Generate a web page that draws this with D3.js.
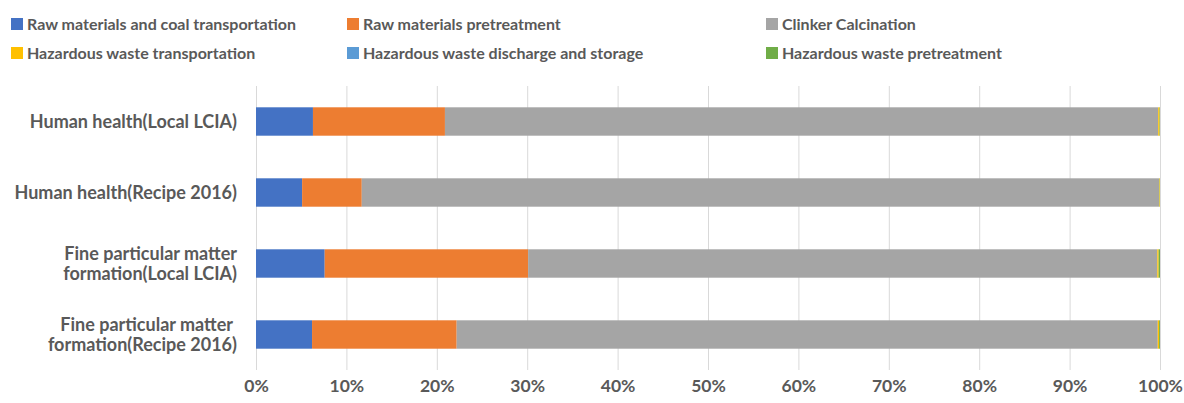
<!DOCTYPE html>
<html>
<head>
<meta charset="utf-8">
<script src="https://cdn.jsdelivr.net/npm/d3@7"></script>
<style>
  html, body { margin: 0; padding: 0; background: #fff; }
  svg text { font-family: Lato, "Open Sans", sans-serif; font-weight: 700; fill: #595959; }
</style>
</head>
<body>
<svg id="chart" width="1184" height="403"></svg>
<script>
// Impact categories (top to bottom)
const categories = [
  "Human health(Local LCIA)",
  "Human health(Recipe 2016)",
  "Fine particular matter\nformation(Local LCIA)",
  "Fine particular matter \nformation(Recipe 2016)"
];

// Process stages, in stacking order
const stages = [
  "Raw materials and coal transportation",
  "Raw materials pretreatment",
  "Clinker Calcination",
  "Hazardous waste transportation",
  "Hazardous waste discharge and storage",
  "Hazardous waste pretreatment"
];

// Share (%) of each stage per category
const rawTransport   = [6.3, 5.1, 7.6, 6.2];
const rawPretreat    = [14.6, 6.6, 22.5, 16.0];
const clinker        = [78.9, 88.2, 69.6, 77.55];
const hwTransport    = [0.15, 0.07, 0.15, 0.15];
const hwDischarge    = [0.0, 0.0, 0.0, 0.0];
const hwPretreat     = [0.05, 0.03, 0.15, 0.1];

const tickValues = [0, 10, 20, 30, 40, 50, 60, 70, 80, 90, 100];

const colors = ["#4472C4", "#ED7D31", "#A5A5A5", "#FFC000", "#5B9BD5", "#70AD47"];

const seriesValues = [rawTransport, rawPretreat, clinker, hwTransport, hwDischarge, hwPretreat];
const rows = categories.map((c, i) => {
  const r = { category: c };
  stages.forEach((s, j) => { r[s] = seriesValues[j][i]; });
  return r;
});

const svg = d3.select("#chart");
const margin = { left: 256, right: 24, top: 86, bottom: 33 };
const W = 1184, H = 403;

const x = d3.scaleLinear().domain([0, 100]).range([margin.left, W - margin.right]);
const y = d3.scaleBand().domain(categories).range([margin.top, H - margin.bottom]).paddingInner(0.6).paddingOuter(0.3);

// Vertical gridlines
svg.append("g")
  .selectAll("line")
  .data(tickValues)
  .join("line")
  .attr("x1", d => x(d) + 0.5).attr("x2", d => x(d) + 0.5)
  .attr("y1", margin.top).attr("y2", H - margin.bottom)
  .attr("stroke", "#D9D9D9").attr("stroke-width", 1);

// Stacked bars
const stack = d3.stack().keys(stages);
const layers = stack(rows);

svg.append("g")
  .selectAll("g")
  .data(layers)
  .join("g")
  .attr("fill", (d, i) => colors[i])
  .selectAll("rect")
  .data(d => d)
  .join("rect")
  .attr("x", d => x(d[0]))
  .attr("width", d => Math.max(0, x(d[1]) - x(d[0])))
  .attr("y", d => y(d.data.category))
  .attr("height", y.bandwidth());

// X axis labels
const xAxis = d3.axisBottom(x).tickValues(tickValues).tickFormat(d => d + "%").tickSize(0).tickPadding(0);
const gx = svg.append("g").attr("transform", `translate(0, ${H - margin.bottom})`).call(xAxis);
gx.select(".domain").remove();
gx.selectAll("text").attr("dy", null).attr("y", 22).style("font-size", "17.5px").style("font-family", null).attr("fill", null);

// Category labels (right-aligned, may wrap to two lines)
const ylab = svg.append("g");
categories.forEach(c => {
  const lines = c.split("\n");
  const cy = y(c) + y.bandwidth() / 2;
  const lh = 20;
  const t = ylab.append("text")
    .attr("text-anchor", "end")
    .style("font-size", "18px");
  lines.forEach((l, k) => {
    t.append("tspan")
      .attr("x", 237)
      .attr("y", cy + (k - (lines.length - 1) / 2) * lh)
      .attr("dy", "0.35em")
      .attr("xml:space", "preserve")
      .text(l);
  });
});

// Legend
const legendPos = [
  [11, 24], [347, 24], [766, 24],
  [11, 53], [347, 53], [766, 53]
];
const leg = svg.append("g");
stages.forEach((s, i) => {
  const [lx, ly] = legendPos[i];
  leg.append("rect").attr("x", lx).attr("y", ly - 6).attr("width", 12).attr("height", 12).attr("fill", colors[i]);
  leg.append("text").attr("x", lx + 16).attr("y", ly).attr("dy", "0.35em").style("font-size", "16px").text(s);
});
</script>
</body>
</html>
